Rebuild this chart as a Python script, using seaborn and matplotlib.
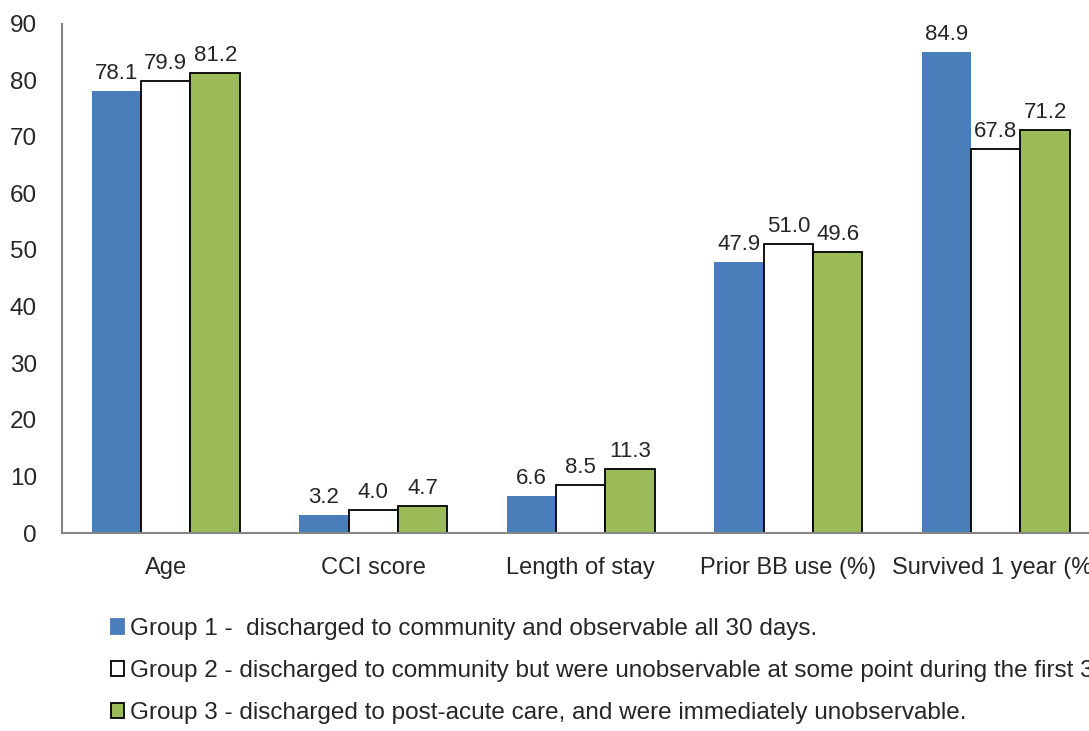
import pandas as pd
import matplotlib
matplotlib.use('Agg')
import matplotlib.pyplot as plt
from matplotlib.patches import Patch
import seaborn as sns

categories = ['Age', 'CCI score', 'Length of stay', 'Prior BB use (%)', 'Survived 1 year (%)']
groups = ['Group 1 -  discharged to community and observable all 30 days.',
          'Group 2 - discharged to community but were unobservable at some point during the first 30 days.',
          'Group 3 - discharged to post-acute care, and were immediately unobservable.']
group1 = [78.1, 3.2, 6.6, 47.9, 84.9]
group2 = [79.9, 4.0, 8.5, 51.0, 67.8]
group3 = [81.2, 4.7, 11.3, 49.6, 71.2]
y_ticks = [0, 10, 20, 30, 40, 50, 60, 70, 80, 90]

fills = ['#4a7ebb', '#ffffff', '#9bbb59']
edges = ['#4a7ebb', '#000000', '#000000']

rows = []
for g, vals in zip(groups, [group1, group2, group3]):
    for c, v in zip(categories, vals):
        rows.append({'Category': c, 'Group': g, 'Value': v})
df = pd.DataFrame(rows)

sns.set_style('white')
plt.rcParams['font.family'] = ['Liberation Sans', 'DejaVu Sans']

fig = plt.figure(figsize=(10.89, 7.31), dpi=100)
ax = fig.add_axes([62 / 1089, 1 - 533 / 731, 1037.5 / 1089, (533 - 23.5) / 731])

sns.barplot(data=df, x='Category', y='Value', hue='Group', hue_order=groups,
            order=categories, palette=fills, width=0.715, gap=0, legend=False,
            saturation=1, ax=ax, errorbar=None)

for cont, ec in zip(ax.containers, edges):
    for bar in cont:
        bar.set_edgecolor(ec)
        bar.set_linewidth(1.3 if ec == '#000000' else 0)
    ax.bar_label(cont, fmt='%.1f', padding=5, fontsize=16, color='#262626')

ax.set_xlim(-0.5, 4.5)
ax.set_ylim(0, 90)
ax.set_yticks(y_ticks)
ax.set_xlabel('')
ax.set_ylabel('')
ax.tick_params(axis='y', length=0, pad=18, labelsize=17.5, labelcolor='#262626')
ax.tick_params(axis='x', length=0, pad=17, labelsize=17, labelcolor='#262626')
for side in ['top', 'right']:
    ax.spines[side].set_visible(False)
for side in ['left', 'bottom']:
    ax.spines[side].set_color('#868686')
    ax.spines[side].set_linewidth(1.5)

# legend sits below the plot and runs off the right edge like the original
handles = [Patch(facecolor=f, edgecolor=e, linewidth=1.3) for f, e in zip(fills, edges)]
fig.legend(handles, groups, loc='upper left', bbox_to_anchor=(111 / 1089, 1 - 618 / 731),
           frameon=False, fontsize=17.5, handlelength=0.55, handleheight=0.55,
           handletextpad=0.25, labelspacing=0.83, borderpad=0, borderaxespad=0,
           labelcolor='#262626')

fig.savefig('out.png', dpi=100)
